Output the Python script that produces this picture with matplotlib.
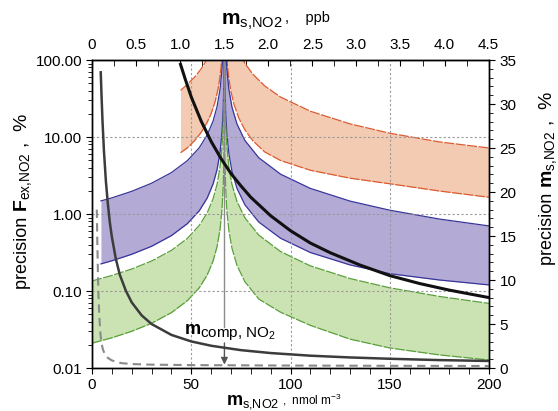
import matplotlib
matplotlib.use("Agg")
import matplotlib.pyplot as plt
from matplotlib.ticker import FuncFormatter, MultipleLocator, NullFormatter, LogLocator

plt.rcParams["font.family"] = ["Liberation Sans", "DejaVu Sans"]
plt.rcParams["mathtext.fontset"] = "custom"
plt.rcParams["mathtext.rm"] = "Liberation Sans"
plt.rcParams["mathtext.bf"] = "Liberation Sans:bold"
plt.rcParams["mathtext.it"] = "Liberation Sans:italic"

# compensation point (nmol m-3) and unit conversion
M_COMP = 66.7
NMOL_PER_PPB = 44.4

# precision of the exchange flux, % (left axis) -- lower / upper edge of each band
green_left_x = [0, 10, 20, 30, 40, 48, 54, 58, 61, 63, 64.5, 65.5, 66.1, 66.45, 66.62]
green_left_lo = [0.021, 0.0247, 0.030, 0.0381, 0.0524, 0.0749, 0.110, 0.161, 0.246, 0.378, 0.636, 1.17, 2.33, 5.6, 17.5]
green_left_hi = [0.135, 0.159, 0.193, 0.245, 0.337, 0.481, 0.709, 1.03, 1.58, 2.43, 4.09, 7.5, 15.0, 36.0, 112.0]

purple_left_x = [4.5, 10, 20, 30, 40, 48, 54, 58, 61, 63, 64.5, 65.5, 66.1, 66.45, 66.62]
purple_left_lo = [0.225, 0.247, 0.30, 0.381, 0.524, 0.749, 1.10, 1.61, 2.46, 3.78, 6.36, 11.7, 23.3, 56, 175]
purple_left_hi = [1.48, 1.62, 1.97, 2.51, 3.45, 4.92, 7.24, 10.6, 16.1, 24.9, 41.8, 76.7, 153, 368, 1150]

right_x = [66.78, 66.95, 67.3, 67.9, 68.9, 70.5, 73, 77, 84, 95, 110, 130, 150, 175, 200]
green_right_lo = [17.0, 5.4, 2.27, 1.13, 0.62, 0.36, 0.216, 0.132, 0.0786, 0.053, 0.0358, 0.0237, 0.0182, 0.0148, 0.0127]
green_right_hi = [115, 36.8, 15.3, 7.67, 4.18, 2.42, 1.46, 0.893, 0.532, 0.325, 0.212, 0.145, 0.110, 0.085, 0.069]
purple_right_lo = [170, 54.4, 22.7, 11.3, 6.18, 3.58, 2.16, 1.32, 0.786, 0.484, 0.316, 0.218, 0.168, 0.139, 0.120]
purple_right_hi = [1160, 372, 155, 77.5, 42.3, 24.5, 14.8, 9.03, 5.38, 3.29, 2.15, 1.47, 1.12, 0.86, 0.70]

orange_left_x = [44.6, 48, 52, 55, 58, 60, 62, 63.5, 64.5, 65.3, 65.9, 66.3, 66.55]
orange_left_lo = [6.25, 7.22, 9.18, 11.5, 15.5, 20.1, 28.7, 42.2, 61.4, 96.4, 169, 338, 900]
orange_left_hi = [40.3, 48.1, 61.2, 76.9, 103, 134, 191, 281, 409, 643, 1125, 2250, 6000]

orange_right_x = [66.85, 67.1, 67.5, 68.1, 68.9, 70, 71.5, 74, 77, 81, 87, 95, 110, 130, 150, 175, 200]
orange_right_lo = [853, 320, 160, 91.4, 58.2, 38.8, 26.7, 17.5, 12.4, 8.95, 6.4, 4.95, 3.7, 2.92, 2.47, 1.99, 1.65]
orange_right_hi = [6233, 2338, 1169, 668, 425, 283, 195, 128, 90.8, 65.4, 46.1, 33.0, 21.6, 14.8, 11.2, 8.63, 7.2]

# precision of the concentration, % (right axis)
ms_black_x = [44.6, 47, 50, 55, 60, 65, 70, 75, 80, 90, 100, 110, 120, 135, 150, 165, 180, 200]
ms_black_y = [34.5, 32.8, 30.8, 28.05, 25.75, 23.8, 22.1, 20.7, 19.4, 17.3, 15.6, 14.2, 13.1, 11.7, 10.5, 9.6, 8.85, 8.0]

ms_gray_x = [4.4, 4.8, 5.3, 6, 7, 8, 9, 10, 12, 14, 17, 20, 25, 30, 40, 50, 60, 75, 90, 110, 130, 150, 175, 200]
ms_gray_y = [33.6, 30.9, 28.0, 24.7, 21.2, 18.6, 16.5, 14.9, 12.4, 10.6, 8.8, 7.46, 5.98, 5.0, 3.76, 3.02, 2.53,
             2.03, 1.7, 1.4, 1.2, 1.05, 0.9, 0.8]

ms_dash_x = [2.4, 2.7, 3.0, 3.3, 3.7, 4.2, 4.7, 5.5, 6.4, 8, 9.7, 12, 15, 20, 30, 50, 100, 150, 200]
ms_dash_y = [18, 14, 10.5, 8, 5.8, 4.0, 2.9, 2.1, 1.6, 1.15, 0.9, 0.7, 0.55, 0.45, 0.38, 0.33, 0.28, 0.25, 0.23]

fig = plt.figure(figsize=(5.58, 4.11), dpi=100)
ax = fig.add_axes([0.1649, 0.1046, 0.7115, 0.7494])


def band(x, lo, hi, fill, edge, dashes):
    ax.fill_between(x, lo, hi, color=fill, lw=0, zorder=1)
    for y in (lo, hi):
        line, = ax.plot(x, y, color=edge, lw=0.9, zorder=1.5)
        if dashes:
            line.set_dashes(dashes)


band(orange_left_x, orange_left_lo, orange_left_hi, "#f2cbb2", "#dd5a30", (8, 1.2))
band(orange_right_x, orange_right_lo, orange_right_hi, "#f2cbb2", "#dd5a30", (8, 1.2))
band(purple_left_x, purple_left_lo, purple_left_hi, "#b3aad6", "#38359a", None)
band(right_x, purple_right_lo, purple_right_hi, "#b3aad6", "#38359a", None)
band(green_left_x, green_left_lo, green_left_hi, "#cbe3b3", "#5aa03c", (8, 1.2))
band(right_x, green_right_lo, green_right_hi, "#cbe3b3", "#5aa03c", (8, 1.2))

ax.set_yscale("log")
ax.set_ylim(0.01, 100)
ax.set_xlim(0, 200)
ax.set_xticks([0, 50, 100, 150, 200])
ax.xaxis.set_minor_locator(MultipleLocator(10))
ax.yaxis.set_minor_locator(LogLocator(subs=range(2, 10)))
ax.yaxis.set_minor_formatter(NullFormatter())
ax.yaxis.set_major_formatter(FuncFormatter(lambda v, p: f"{v:.2f}"))
ax.grid(True, which="major", color="#9a9a9a", lw=0.8, ls=(0, (2, 2)), zorder=2)
ax.set_axisbelow(False)
ax.tick_params(axis="y", which="both", direction="out", labelsize=11, pad=3)
ax.tick_params(axis="y", which="major", length=4)
ax.tick_params(axis="y", which="minor", length=3)
ax.tick_params(axis="x", which="both", direction="out", length=4, labelsize=11, pad=3.5)

# compensation point marker
ax.plot([M_COMP, M_COMP], [0.034, 100], color="#8c8c8c", lw=1.0, zorder=3)
ax.annotate("", xy=(M_COMP, 0.0102), xytext=(M_COMP, 0.023),
            arrowprops=dict(arrowstyle="-|>", color="#555555", lw=1.0, mutation_scale=10), zorder=3)
ax.text(46.3, 0.0275, r"$\mathbf{m}$", fontsize=13, ha="left", va="baseline", zorder=4)
ax.text(54.6, 0.0252, "comp, NO$_2$", fontsize=11, ha="left", va="baseline", zorder=4)

# concentration precision on the right axis
ax2 = ax.twinx()
ax2.set_ylim(0, 35)
ax2.plot(ms_dash_x, ms_dash_y, color="#8a8a8a", lw=1.5, dashes=(4, 2.5))
ax2.plot(ms_gray_x, ms_gray_y, color="#3c3c3c", lw=1.8)
ax2.plot(ms_black_x, ms_black_y, color="#111111", lw=2.2)
ax2.set_yticks(range(0, 36, 5))
ax2.yaxis.set_minor_locator(MultipleLocator(1))
ax2.tick_params(axis="y", which="both", direction="out", labelsize=11, pad=3.5)
ax2.tick_params(axis="y", which="major", length=4)
ax2.tick_params(axis="y", which="minor", length=3)

# mixing ratio scale on top
top = ax.secondary_xaxis("top", functions=(lambda x: x / NMOL_PER_PPB, lambda p: p * NMOL_PER_PPB))
top.set_xticks([0, 0.5, 1.0, 1.5, 2.0, 2.5, 3.0, 3.5, 4.0, 4.5])
top.xaxis.set_minor_locator(MultipleLocator(0.25))
top.xaxis.set_major_formatter(FuncFormatter(lambda v, p: "0" if v == 0 else f"{v:.1f}"))
top.tick_params(axis="x", which="both", direction="in", length=4, labelsize=11, pad=6)

for a in (ax, ax2):
    for s in a.spines.values():
        s.set_linewidth(1.0)

# axis titles
fig.text(0.500, 1 - 404 / 411, r"$\mathbf{m}_{\mathrm{s{,}NO2}}$", fontsize=13, ha="right", va="baseline")
fig.text(0.505, 1 - 404 / 411, r",  nmol m$^{-3}$", fontsize=8.5, ha="left", va="baseline")

fig.text(0.507, 1 - 25 / 411, r"$\mathbf{m}_{\mathrm{s{,}NO2}}$", fontsize=15, ha="right", va="baseline")
fig.text(0.510, 1 - 22 / 411, ",    ppb", fontsize=10.5, ha="left", va="baseline")

fig.text(27 / 558, 1 - 212 / 411, "precision ", fontsize=13, rotation=90, rotation_mode="anchor",
         ha="right", va="baseline")
fig.text(27 / 558, 1 - 212 / 411, r"$\mathbf{F}_{\mathrm{ex{,}NO2}}$ ,  %", fontsize=14, rotation=90,
         rotation_mode="anchor", ha="left", va="baseline")

fig.text(552 / 558, 1 - 188 / 411, "precision ", fontsize=13, rotation=90, rotation_mode="anchor",
         ha="right", va="baseline")
fig.text(552 / 558, 1 - 188 / 411, r"$\mathbf{m}_{\mathrm{s{,}NO2}}$ ,  %", fontsize=14, rotation=90,
         rotation_mode="anchor", ha="left", va="baseline")

fig.savefig("out.png", dpi=100)
